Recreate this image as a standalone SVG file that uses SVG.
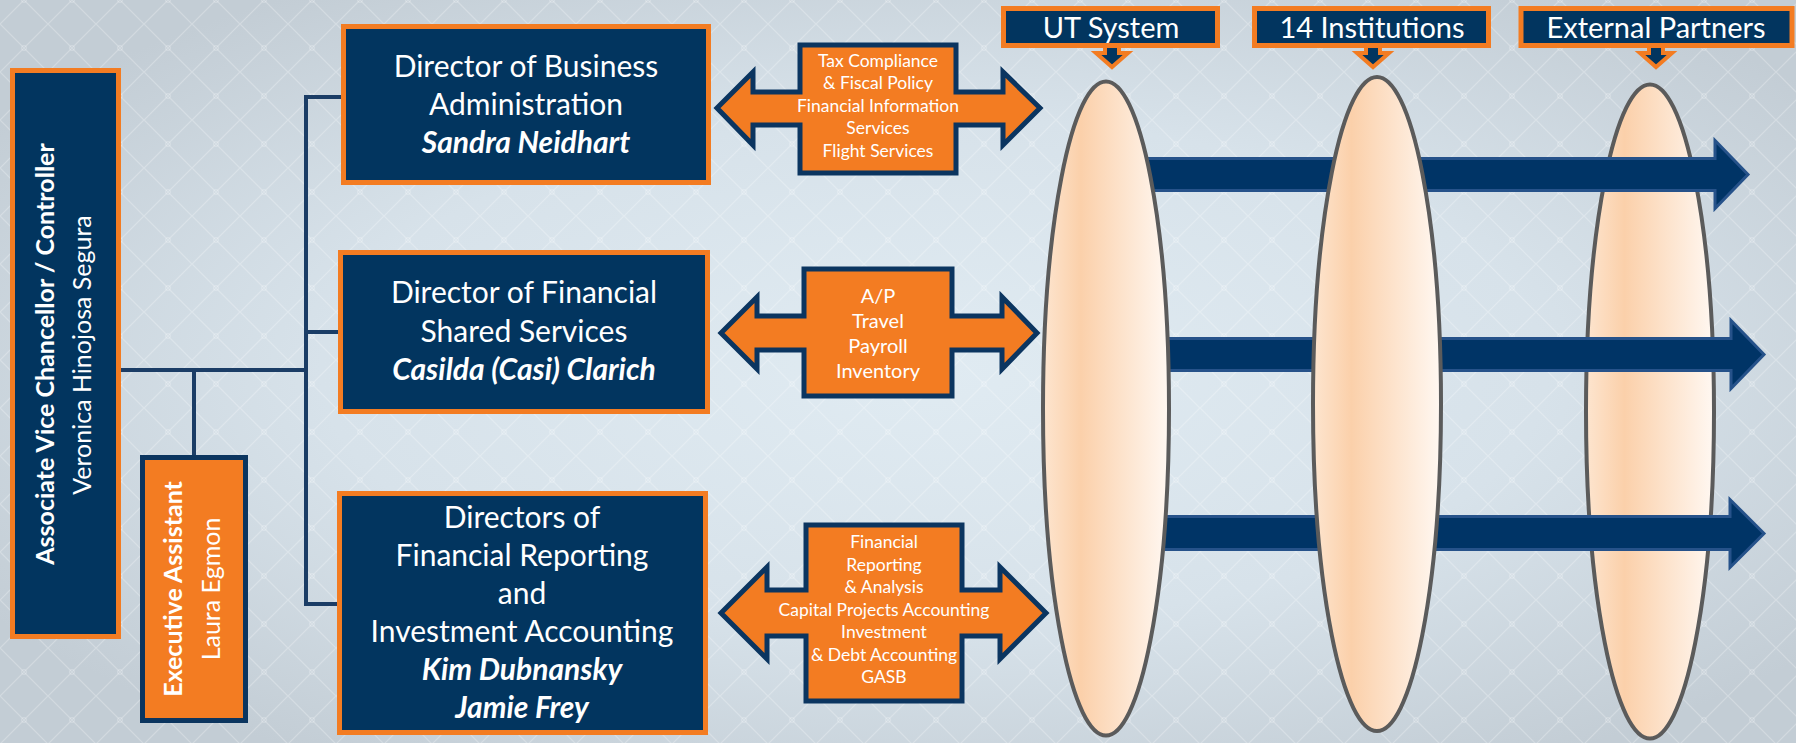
<svg xmlns="http://www.w3.org/2000/svg" width="1796" height="743" viewBox="0 0 1796 743">
<defs>
<radialGradient id="bg" cx="0.52" cy="0.5" r="0.62">
<stop offset="0" stop-color="#e0ebf2"/>
<stop offset="0.55" stop-color="#d7e2ea"/>
<stop offset="1" stop-color="#c3cdd5"/>
</radialGradient>
<pattern id="lat" width="48" height="48" patternUnits="userSpaceOnUse">
<path d="M0 24 L24 0 L48 24 L24 48 Z" fill="none" stroke="#ffffff" stroke-opacity="0.25" stroke-width="1.2"/>
<circle cx="24" cy="0" r="2.5" fill="none" stroke="#ffffff" stroke-opacity="0.25"/>
<circle cx="24" cy="48" r="2.5" fill="none" stroke="#ffffff" stroke-opacity="0.25"/>
</pattern>
<linearGradient id="pillar" x1="0" y1="0" x2="1" y2="0">
<stop offset="0" stop-color="#fde5cf"/>
<stop offset="0.3" stop-color="#fbd0aa"/>
<stop offset="1" stop-color="#fff8f2"/>
</linearGradient>
<style>
.dbox{fill:#02355f;stroke:#f37c22;stroke-width:5}
.obox{fill:#f37c22;stroke:#0b355f;stroke-width:5}
.conn{stroke:#1b3d66;stroke-width:4;fill:none;stroke-linecap:square}
.darrow{fill:#f37c22;stroke:#0b3560;stroke-width:5;stroke-linejoin:miter}
.barrow{fill:#003466;stroke:#26528a;stroke-width:3}
.pillar{fill:url(#pillar);stroke:#5b5b5b;stroke-width:4}
.ptr{fill:#02355f;stroke:#f37c22;stroke-width:4;stroke-linejoin:miter}
text{font-family:Lato,"Open Sans","Liberation Sans",sans-serif;fill:#ffffff;text-anchor:middle}
.dt{font-size:30px}
.nm{font-size:30px;font-weight:bold;font-style:italic}
.lt{font-size:29px}
.at{font-size:17.5px}
.at2{font-size:20px}
.vt{font-size:25px}
.vb{font-size:25px;font-weight:bold}
</style>
</defs>
<rect width="1796" height="743" fill="url(#bg)"/>
<rect width="1796" height="743" fill="url(#lat)"/>

<g id="connectors">
<path class="conn" d="M120 370 H306 M194 370 V455 M306 97 V604 M306 97 H341 M306 332 H338 M306 604 H337"/>
</g>

<g id="avc">
<rect class="dbox" x="12.5" y="70.5" width="106" height="566"/>
<text class="vb" transform="translate(54,354) rotate(-90)">Associate Vice Chancellor / Controller</text>
<text class="vt" transform="translate(91,355) rotate(-90)">Veronica Hinojosa Segura</text>
</g>

<g id="exec">
<rect class="obox" x="142.5" y="457.5" width="103" height="263"/>
<text class="vb" transform="translate(182,589) rotate(-90)">Executive Assistant</text>
<text class="vt" transform="translate(220,589) rotate(-90)">Laura Egmon</text>
</g>

<g id="dir1">
<rect class="dbox" x="343.5" y="26.5" width="365" height="156"/>
<text class="dt" x="526" y="77">Director of Business</text>
<text class="dt" x="526" y="115">Administration</text>
<text class="nm" x="526" y="153">Sandra Neidhart</text>
</g>

<g id="dir2">
<rect class="dbox" x="340.5" y="252.5" width="367" height="159"/>
<text class="dt" x="524" y="303">Director of Financial</text>
<text class="dt" x="524" y="342">Shared Services</text>
<text class="nm" x="524" y="380">Casilda (Casi) Clarich</text>
</g>

<g id="dir3">
<rect class="dbox" x="339.5" y="493.5" width="366" height="239"/>
<text class="dt" x="522" y="528">Directors of</text>
<text class="dt" x="522" y="566">Financial Reporting</text>
<text class="dt" x="522" y="604">and</text>
<text class="dt" x="522" y="642">Investment Accounting</text>
<text class="nm" x="522" y="680">Kim Dubnansky</text>
<text class="nm" x="522" y="718">Jamie Frey</text>
</g>

<g id="pillar3">
<ellipse class="pillar" cx="1650" cy="411.5" rx="64" ry="327"/>
</g>

<g id="flow-arrows">
<path class="barrow" d="M1090 158.5 H1715 V140.5 L1748 174.5 L1715 208.5 V190.5 H1090 Z"/>
<path class="barrow" d="M1090 338.5 H1731 V320.5 L1764 354.5 L1731 388.5 V370.5 H1090 Z"/>
<path class="barrow" d="M1090 516.5 H1730 V499.5 L1764 533.5 L1730 567.5 V549.5 H1090 Z"/>
</g>

<g id="pillar1">
<ellipse class="pillar" cx="1106" cy="408.5" rx="63" ry="327"/>
</g>
<g id="pillar2">
<ellipse class="pillar" cx="1377" cy="404" rx="64" ry="327"/>
</g>

<g id="arrow1">
<path class="darrow" d="M717 108 L753 72 V92 H800 V45 H956 V92 H1003 V72 L1040 108 L1003 145 V125 H956 V173 H800 V125 H753 V145 Z"/>
<text class="at" x="878" y="67">Tax Compliance</text>
<text class="at" x="878" y="89">&amp; Fiscal Policy</text>
<text class="at" x="878" y="112">Financial Information</text>
<text class="at" x="878" y="134">Services</text>
<text class="at" x="878" y="157">Flight Services</text>
</g>

<g id="arrow2">
<path class="darrow" d="M721 333 L757 297 V316 H804 V269 H952 V316 H1002 V297 L1037 333 L1002 369 V350 H952 V396 H804 V350 H757 V369 Z"/>
<text class="at2" x="878" y="303">A/P</text>
<text class="at2" x="878" y="328">Travel</text>
<text class="at2" x="878" y="353">Payroll</text>
<text class="at2" x="878" y="378">Inventory</text>
</g>

<g id="arrow3">
<path class="darrow" d="M721 613 L767 567 V590 H806 V525 H962 V590 H1000 V567 L1046 613 L1000 659 V636 H962 V701 H806 V636 H767 V659 Z"/>
<text class="at" x="884" y="548">Financial</text>
<text class="at" x="884" y="571">Reporting</text>
<text class="at" x="884" y="593">&amp; Analysis</text>
<text class="at" x="884" y="616">Capital Projects Accounting</text>
<text class="at" x="884" y="638">Investment</text>
<text class="at" x="884" y="661">&amp; Debt Accounting</text>
<text class="at" x="884" y="683">GASB</text>
</g>

<g id="label-ut">
<rect class="dbox" x="1003.5" y="8.5" width="214" height="37"/>
<path class="ptr" d="M1105 48 V53 H1096 L1112 67 L1128 53 H1119 V48"/>
<text class="lt" x="1111" y="38">UT System</text>
</g>
<g id="label-14">
<rect class="dbox" x="1254.5" y="8.5" width="234" height="37"/>
<path class="ptr" d="M1366 48 V53 H1357 L1373 67 L1389 53 H1380 V48"/>
<text class="lt" x="1372" y="38">14 Institutions</text>
</g>
<g id="label-ext">
<rect class="dbox" x="1521" y="8.5" width="271" height="37"/>
<path class="ptr" d="M1649 48 V53 H1640 L1656 67 L1672 53 H1663 V48"/>
<text class="lt" x="1656" y="38">External Partners</text>
</g>
</svg>
